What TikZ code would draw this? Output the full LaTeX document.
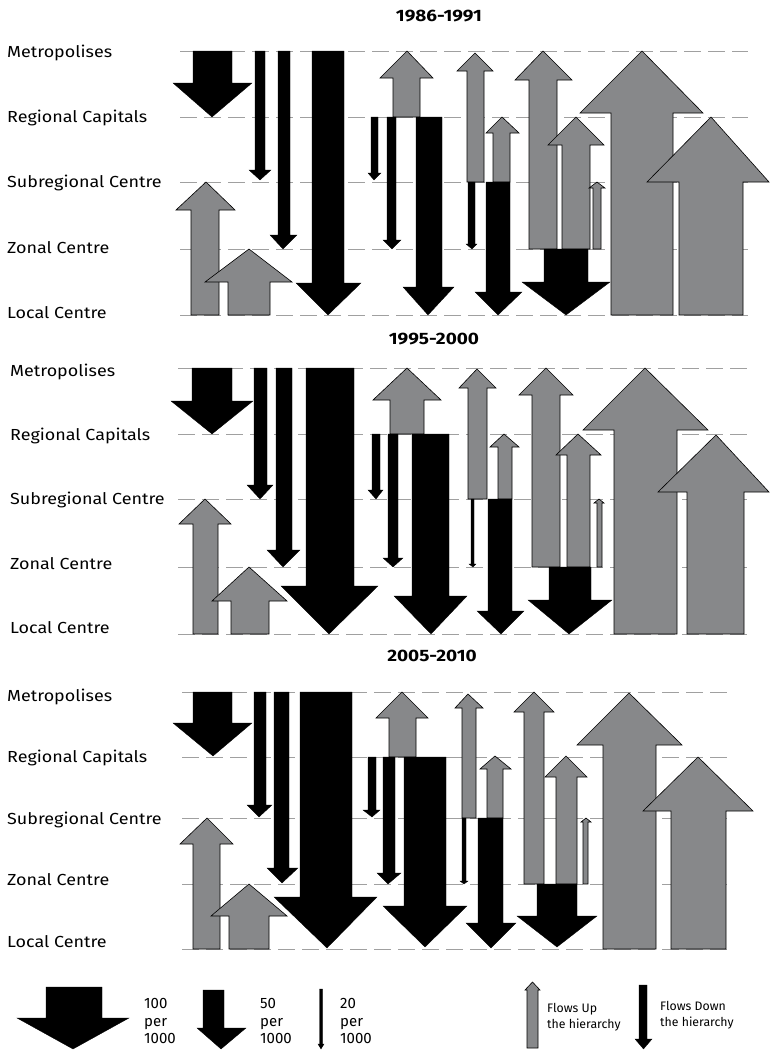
\documentclass[tikz,border=0pt]{standalone}
\usepackage{fontspec}
\setmainfont{Fira Sans}
\newfontfamily\lblfont[FakeStretch=1.12]{Fira Sans}
\newfontfamily\ttlfont[FakeStretch=1.15]{Fira Sans}
\definecolor{flowgray}{RGB}{135,136,138}
\definecolor{dashgray}{RGB}{160,160,160}
\tikzset{
  upflow/.style={fill=flowgray, draw=black, line width=0.6pt, line join=miter},
  downflow/.style={fill=black, draw=black, line width=0.3pt},
  levelline/.style={draw=dashgray, line width=0.9pt, dash pattern=on 17pt off 7pt},
  lvl/.style={anchor=west, font=\lblfont\fontsize{16}{19}\selectfont, inner sep=0pt},
  ttl/.style={font=\ttlfont\fontsize{16.5}{19}\selectfont\bfseries, inner sep=0pt},
  legtxt/.style={anchor=west, align=left, font=\fontsize{15}{17.5}\selectfont, inner sep=0pt},
  legsmall/.style={anchor=west, align=left, font=\fontsize{12.3}{15.5}\selectfont, inner sep=0pt}
}
% style, shaftL, shaftR, yStart, yHeadBase, headL, headR, tipX, tipY
\newcommand{\flowarr}[9]{%
  \path[#1] (#2,#4) -- (#2,#5) -- (#6,#5) -- (#8,#9) -- (#7,#5) -- (#3,#5) -- (#3,#4) -- cycle;}
\begin{document}
\begin{tikzpicture}[x=1pt,y=-1pt]
\useasboundingbox (0,0) rectangle (769,1050);

% ---------------- Panel 1 ----------------
\node[ttl] (t1) at (439,16) {1986-1991};
\foreach \yy in {51,117,182,249,315} {\draw[levelline] (180,\yy) -- (748,\yy);}
\node[lvl] (p1m) at (7,53) {Metropolises};
\node[lvl] (p1r) at (7,118) {Regional Capitals};
\node[lvl] (p1s) at (7,183) {Subregional Centre};
\node[lvl] (p1z) at (7,248) {Zonal Centre};
\node[lvl] (p1l) at (7,313) {Local Centre};

\flowarr{downflow}{193}{232}{51}{83}{173}{252}{212}{117}
\flowarr{downflow}{255}{265}{51}{170}{249}{271}{260}{180}
\flowarr{downflow}{278}{290}{51}{235}{270}{297}{283}{249}
\flowarr{downflow}{312}{344}{51}{283}{296}{361}{328}{315}
\flowarr{upflow}{191}{219}{315}{210}{176}{235}{206}{182}
\flowarr{upflow}{228}{270}{315}{282}{205}{292}{249}{249}
\flowarr{upflow}{393}{420}{117}{78}{380}{433}{407}{51}
\flowarr{downflow}{371}{378}{117}{173}{368}{381}{374}{180}
\flowarr{downflow}{387}{396}{117}{240}{383}{401}{392}{249}
\flowarr{downflow}{416}{442}{117}{287}{403}{454}{428}{315}
\flowarr{upflow}{467}{484}{182}{71}{457}{493}{475}{53}
\flowarr{downflow}{468}{475}{182}{244}{466}{477}{472}{249}
\flowarr{upflow}{493}{510}{182}{133}{486}{519}{502}{117}
\flowarr{downflow}{486}{510}{182}{292}{475}{522}{498}{315}
\flowarr{upflow}{529}{557}{249}{80}{515}{572}{543}{51}
\flowarr{upflow}{562}{590}{249}{145}{548}{604}{576}{117}
\flowarr{upflow}{593}{601}{249}{188}{589}{605}{597}{182}
\flowarr{downflow}{544}{588}{249}{282}{522}{610}{566}{315}
\flowarr{upflow}{611}{673}{315}{113}{580}{703}{642}{51}
\flowarr{upflow}{679}{743}{315}{182}{647}{769}{711}{117}

% ---------------- Panel 2 ----------------
\node[ttl] (t2) at (434,339) {1995-2000};
\foreach \yy in {368,434,499,567,634} {\draw[levelline] (178,\yy) -- (748,\yy);}
\node[lvl] (p2m) at (10,372) {Metropolises};
\node[lvl] (p2r) at (10,436) {Regional Capitals};
\node[lvl] (p2s) at (10,500) {Subregional Centre};
\node[lvl] (p2z) at (10,564) {Zonal Centre};
\node[lvl] (p2l) at (10,628) {Local Centre};

\flowarr{downflow}{192}{232}{368}{401}{171}{253}{212}{434}
\flowarr{downflow}{254}{267}{368}{485}{247}{273}{260}{499}
\flowarr{downflow}{276}{292}{368}{550}{267}{300}{283}{567}
\flowarr{downflow}{306}{354}{368}{586}{281}{378}{329}{634}
\flowarr{upflow}{193}{218}{634}{524}{179}{231}{205}{499}
\flowarr{upflow}{231}{269}{634}{601}{212}{287}{249}{567}
\flowarr{upflow}{390}{424}{434}{400}{373}{441}{407}{368}
\flowarr{downflow}{372}{380}{434}{490}{368}{383}{376}{499}
\flowarr{downflow}{388}{398}{434}{558}{383}{403}{393}{567}
\flowarr{downflow}{412}{449}{434}{596}{394}{467}{431}{634}
\flowarr{upflow}{468}{487}{499}{388}{459}{496}{477}{369}
\flowarr{downflow}{471}{474}{499}{564}{469}{476}{473}{567}
\flowarr{upflow}{498}{512}{499}{447}{490}{519}{504}{434}
\flowarr{downflow}{488}{512}{499}{611}{477}{524}{501}{634}
\flowarr{upflow}{532}{560}{567}{395}{519}{573}{546}{368}
\flowarr{upflow}{567}{590}{567}{455}{556}{601}{578}{434}
\flowarr{upflow}{597}{602}{567}{503}{594}{604}{599}{499}
\flowarr{downflow}{549}{591}{567}{600}{528}{612}{569}{634}
\flowarr{upflow}{614}{677}{634}{430}{583}{708}{645}{368}
\flowarr{upflow}{687}{744}{634}{492}{658}{769}{716}{435}

% ---------------- Panel 3 ----------------
\node[ttl] (t3) at (432,656) {2005-2010};
\foreach \yy in {692,757,818,884,949} {\draw[levelline] (182,\yy) -- (733,\yy);}
\node[lvl] (p3m) at (7,697) {Metropolises};
\node[lvl] (p3r) at (7,758) {Regional Capitals};
\node[lvl] (p3s) at (7,820) {Subregional Centre};
\node[lvl] (p3z) at (7,880) {Zonal Centre};
\node[lvl] (p3l) at (7,942) {Local Centre};

\flowarr{downflow}{193}{232}{692}{723}{173}{252}{213}{756}
\flowarr{downflow}{254}{266}{692}{805}{247}{272}{259}{817}
\flowarr{downflow}{274}{289}{692}{868}{267}{298}{282}{883}
\flowarr{downflow}{300}{352}{692}{897}{274}{377}{327}{948}
\flowarr{upflow}{193}{220}{949}{844}{180}{233}{207}{818}
\flowarr{upflow}{229}{269}{949}{916}{211}{287}{249}{884}
\flowarr{upflow}{389}{416}{757}{718}{376}{428}{402}{692}
\flowarr{downflow}{368}{376}{757}{810}{363}{380}{372}{817}
\flowarr{downflow}{383}{395}{757}{873}{377}{401}{388}{884}
\flowarr{downflow}{404}{446}{757}{906}{383}{467}{425}{947}
\flowarr{upflow}{462}{476}{818}{708}{455}{483}{468}{694}
\flowarr{downflow}{462}{466}{818}{881}{460}{468}{464}{884}
\flowarr{upflow}{487}{503}{818}{769}{480}{511}{495}{756}
\flowarr{downflow}{478}{503}{818}{923}{466}{516}{491}{948}
\flowarr{upflow}{524}{544}{884}{712}{514}{554}{534}{692}
\flowarr{upflow}{556}{577}{884}{777}{545}{587}{566}{756}
\flowarr{upflow}{583}{588}{884}{822}{581}{591}{586}{818}
\flowarr{downflow}{537}{577}{884}{916}{517}{597}{557}{947}
\flowarr{upflow}{603}{656}{949}{745}{577}{682}{629}{693}
\flowarr{upflow}{671}{726}{949}{811}{643}{753}{698}{757}

% ---------------- Legend ----------------
\flowarr{downflow}{46}{102}{987}{1018}{17}{129}{73}{1049}
\node[legtxt] (l100) at (144,1021) {100\\per\\1000};
\flowarr{downflow}{203}{224}{990}{1028}{197}{246}{221}{1049}
\node[legtxt] (l50) at (260,1021) {50\\per\\1000};
\flowarr{downflow}{319.5}{322.5}{989}{1044}{318}{324}{321}{1049}
\node[legtxt] (l20) at (340,1021) {20\\per\\1000};
\flowarr{upflow}{527}{538}{1048}{990}{525}{540}{532.5}{982}
\node[legsmall] (lup) at (547,1017) {Flows Up\\the hierarchy};
\flowarr{downflow}{639}{647}{985}{1039}{635}{652}{643.5}{1049}
\node[legsmall] (ldown) at (660,1015) {Flows Down\\the hierarchy};
\end{tikzpicture}
\end{document}
